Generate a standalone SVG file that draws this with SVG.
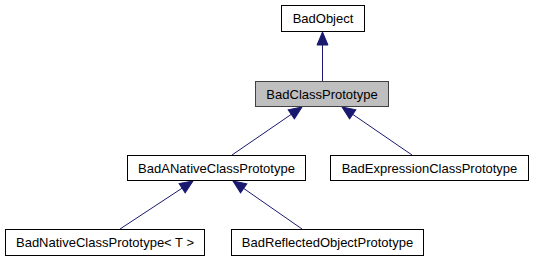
<svg xmlns="http://www.w3.org/2000/svg" width="534" height="261" viewBox="0 0 534 261">
  <style>
    .box { fill: #ffffff; stroke: #000000; stroke-width: 1; }
    .box.focus { fill: #bfbfbf; stroke: #404040; }
    .label { font-family: "Liberation Sans", Arial, sans-serif; font-size: 13px; fill: #000000; text-anchor: middle; }
    .edge { stroke: #191970; stroke-width: 1; fill: none; marker-end: url(#head); }
  </style>
  <defs>
    <marker id="head" markerUnits="userSpaceOnUse" markerWidth="16" markerHeight="14" viewBox="-14 -6 16 12" refX="0" refY="0" orient="auto">
      <polygon points="0,0 -13,-5.5 -13,5.5" fill="#191970" stroke="#191970" stroke-width="1"/>
    </marker>
  </defs>

  <g id="connectors">
    <line class="edge" x1="322.5" y1="81" x2="322.5" y2="32"/>
    <line class="edge" x1="232" y1="155" x2="302" y2="107"/>
    <line class="edge" x1="412" y1="155" x2="342" y2="107"/>
    <line class="edge" x1="120" y1="229" x2="193" y2="181"/>
    <line class="edge" x1="302" y1="229" x2="233" y2="181"/>
  </g>

  <g id="BadObject">
    <rect class="box" x="281.5" y="5.5" width="83" height="26"/>
    <text class="label" x="323" y="23">BadObject</text>
  </g>

  <g id="BadClassPrototype">
    <rect class="box focus" x="255.5" y="81.5" width="133" height="25"/>
    <text class="label" x="322" y="99">BadClassPrototype</text>
  </g>

  <g id="BadANativeClassPrototype">
    <rect class="box" x="127.5" y="155.5" width="178" height="25"/>
    <text class="label" x="216.5" y="173">BadANativeClassPrototype</text>
  </g>

  <g id="BadExpressionClassPrototype">
    <rect class="box" x="330.5" y="155.5" width="198" height="25"/>
    <text class="label" x="429.5" y="173">BadExpressionClassPrototype</text>
  </g>

  <g id="BadNativeClassPrototype">
    <rect class="box" x="5.5" y="229.5" width="199" height="26"/>
    <text class="label" x="105" y="247">BadNativeClassPrototype&lt; T &gt;</text>
  </g>

  <g id="BadReflectedObjectPrototype">
    <rect class="box" x="231.5" y="229.5" width="192" height="26"/>
    <text class="label" x="327.5" y="247">BadReflectedObjectPrototype</text>
  </g>
</svg>
